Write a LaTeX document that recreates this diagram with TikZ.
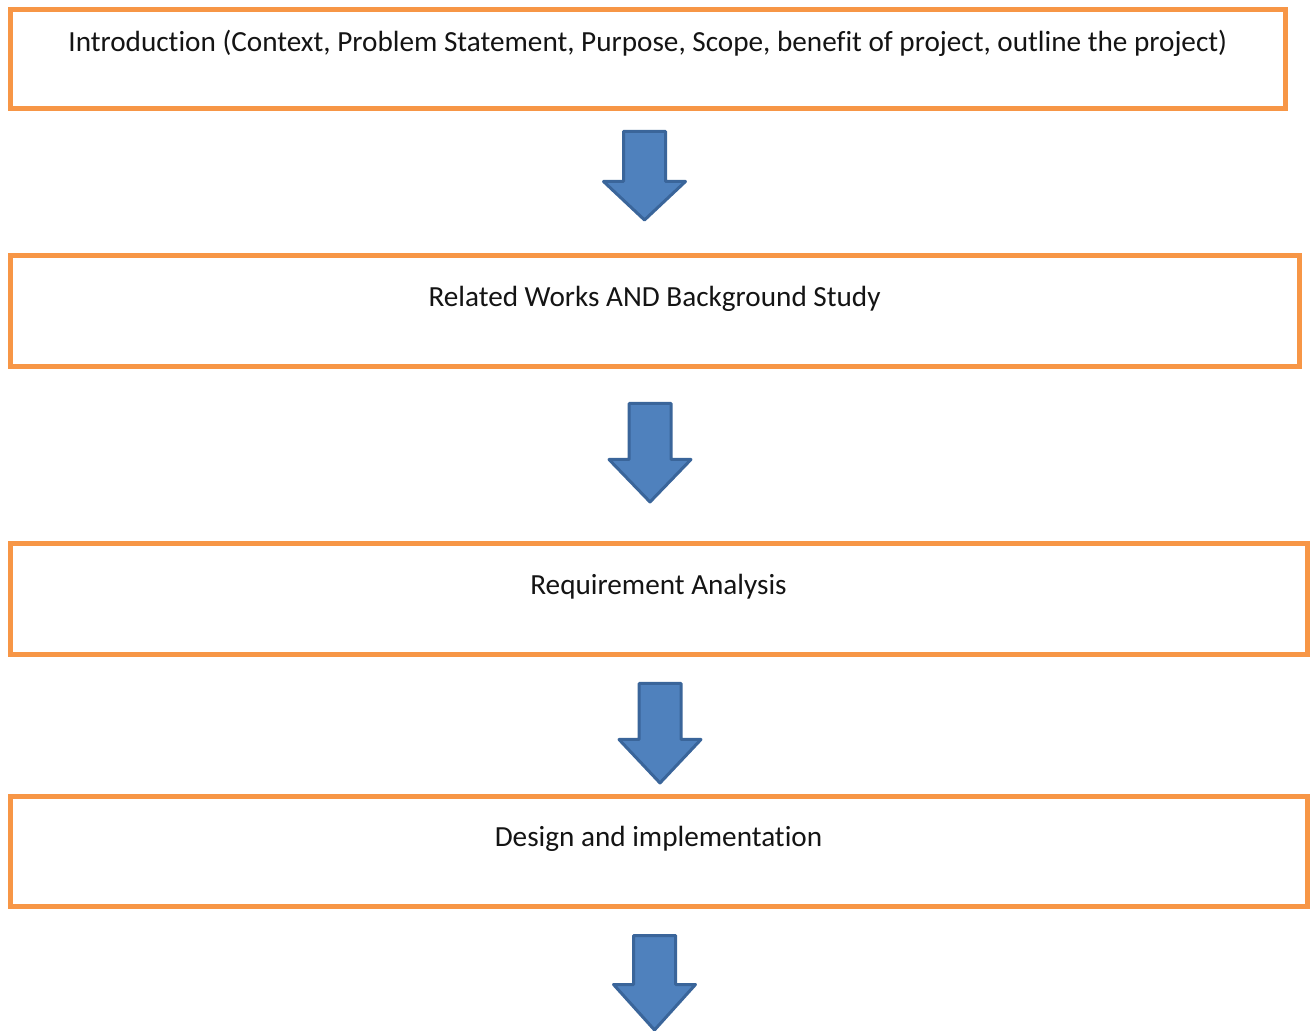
\documentclass[tikz,border=0pt]{standalone}
\usepackage{fontspec}
\setmainfont[Ligatures=NoCommon]{Carlito}
\definecolor{boxorange}{HTML}{F79646}
\definecolor{arrowfill}{HTML}{4F81BD}
\definecolor{arrowline}{HTML}{3A659A}
% block arrow pointing down: centre x, shaft top, head top, tip
\newcommand\stagearrow[4]{%
  \draw[blockarrow] (#1-21,#2) -- (#1+21,#2) -- (#1+21,#3) -- (#1+41,#3)
    -- (#1,#4) -- (#1-41,#3) -- (#1-21,#3) -- cycle;}
\begin{document}
\begin{tikzpicture}[x=1pt,y=1pt,
  stagebox/.style={rectangle, draw=boxorange, line width=5pt, fill=white,
    inner sep=0pt, outer sep=0pt},
  stagetext/.style={anchor=base, inner sep=0pt, text=black!92,
    font=\fontsize{29.2}{34}\selectfont},
  blockarrow/.style={fill=arrowfill, draw=arrowline, line width=3pt,
    line join=round}]
\useasboundingbox (0,0) rectangle (1313,1030);

% stages
\node[stagebox, minimum width=1275.5, minimum height=99]  (intro)   at (647.75,970.5) {};
\node[stagebox, minimum width=1289,   minimum height=111] (related) at (654.5,718.5) {};
\node[stagebox, minimum width=1297,   minimum height=111] (req)     at (658.5,430.5) {};
\node[stagebox, minimum width=1297,   minimum height=110] (design)  at (658.5,178) {};

% stage titles
\node[stagetext] (introtxt)   at (647.75,978) {Introduction (Context, Problem Statement, Purpose, Scope, benefit of project, outline the project)};
\node[stagetext] (relatedtxt) at (654.5,723) {Related Works AND Background Study};
\node[stagetext] (reqtxt)     at (658.5,435) {Requirement Analysis};
\node[stagetext] (designtxt)  at (658.5,183) {Design and implementation};

% flow arrows between stages
\stagearrow{644.5}{898.5}{848.5}{810}
\stagearrow{650}{626.5}{570.5}{528}
\stagearrow{660}{346.5}{290.5}{247}
\stagearrow{654.5}{94.5}{45.5}{0}
\end{tikzpicture}
\end{document}
